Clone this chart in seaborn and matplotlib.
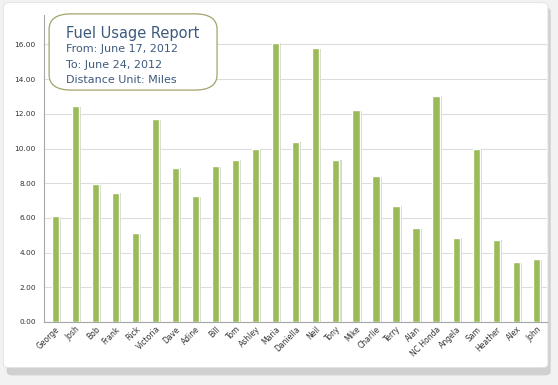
import matplotlib
matplotlib.use("Agg")
import matplotlib.pyplot as plt
import matplotlib.patheffects as pe
from matplotlib.patches import FancyBboxPatch
from matplotlib.ticker import FormatStrFormatter, FixedLocator
import pandas as pd
import seaborn as sns

# Data
names = ['George', 'Josh', 'Bob', 'Frank', 'Rick', 'Victoria', 'Dave', 'Adine',
         'Bill', 'Tom', 'Ashley', 'Maria', 'Daniella', 'Neil', 'Tony', 'Mike',
         'Charlie', 'Terry', 'Alan', 'NC Honda', 'Angela', 'Sam', 'Heather',
         'Alex', 'John']
fuel = [6.1, 12.45, 7.95, 7.45, 5.1, 11.7, 8.9, 7.25, 9.0, 9.35, 10.0, 16.1,
        10.4, 15.8, 9.35, 12.2, 8.4, 6.7, 5.4, 13.05, 4.85, 10.0, 4.75, 3.45, 3.6]
y_ticks = [0, 2, 4, 6, 8, 10, 12, 14, 16]
report_lines = ['From: June 17, 2012', 'To: June 24, 2012', 'Distance Unit: Miles']

df = pd.DataFrame({'name': names, 'fuel': fuel})

sns.set_style('white')
fig = plt.figure(figsize=(5.58, 3.85), dpi=100)
fig.patch.set_facecolor('#f2f2f2')

# card background with soft shadow
fig.patches.append(FancyBboxPatch((0.012, 0.025), 0.975, 0.955, boxstyle='round,pad=0,rounding_size=0.01',
                                  transform=fig.transFigure, facecolor='#c8c8c8', edgecolor='none',
                                  zorder=-3, alpha=0.8))
fig.patches.append(FancyBboxPatch((0.006, 0.045), 0.976, 0.948, boxstyle='round,pad=0,rounding_size=0.01',
                                  transform=fig.transFigure, facecolor='white', edgecolor='#e0e0e0',
                                  lw=0.6, zorder=-2))

ax = fig.add_axes([0.079, 0.164, 0.902, 0.797])
ax.set_facecolor('none')
sns.barplot(data=df, x='name', y='fuel', color='#9bbb59', saturation=1, width=0.36, ax=ax, zorder=3)
for bar in ax.patches:
    bar.set_path_effects([pe.SimplePatchShadow(offset=(1.5, -0.5), shadow_rgbFace='#cdd5c0', alpha=0.9),
                          pe.Normal()])

ax.set_xlim(-0.55, len(names) - 0.45)
ax.set_ylim(0, 17.7)
ax.set_yticks(y_ticks)
ax.yaxis.set_major_formatter(FormatStrFormatter('%.2f'))
ax.grid(axis='y', color='#dcdcdc', lw=0.8, zorder=0)
ax.set_xlabel('')
ax.set_ylabel('')

for s in ['top', 'right']:
    ax.spines[s].set_visible(False)
ax.spines['left'].set_color('#a6a6a6')
ax.spines['bottom'].set_color('#a6a6a6')
ax.spines['left'].set_linewidth(0.8)
ax.spines['bottom'].set_linewidth(0.8)

ax.tick_params(axis='y', labelsize=5.3, colors='#333333', length=0, pad=6)
ax.tick_params(axis='x', which='major', labelsize=5.5, colors='#333333', length=0, pad=2)
ax.xaxis.set_minor_locator(FixedLocator([i + 0.5 for i in range(len(names) - 1)]))
ax.tick_params(axis='x', which='minor', length=3, color='#a6a6a6', width=0.7)
plt.setp(ax.get_xticklabels(), rotation=45, ha='right', rotation_mode='anchor')

# report box
fig.patches.append(FancyBboxPatch((0.088, 0.766), 0.301, 0.198, boxstyle='round,pad=0,rounding_size=0.04',
                                  transform=fig.transFigure, facecolor='white', edgecolor='#a3a36a',
                                  lw=0.9, zorder=5))
fig.text(0.118, 0.912, 'Fuel Usage Report', fontsize=10.5, color='#3e5a7e', va='center', zorder=6)
for i, line in enumerate(report_lines):
    fig.text(0.118, 0.872 - i * 0.04, line, fontsize=8, color='#3e5a7e', va='center', zorder=6)

fig.savefig('out.png', dpi=100, facecolor=fig.get_facecolor())
